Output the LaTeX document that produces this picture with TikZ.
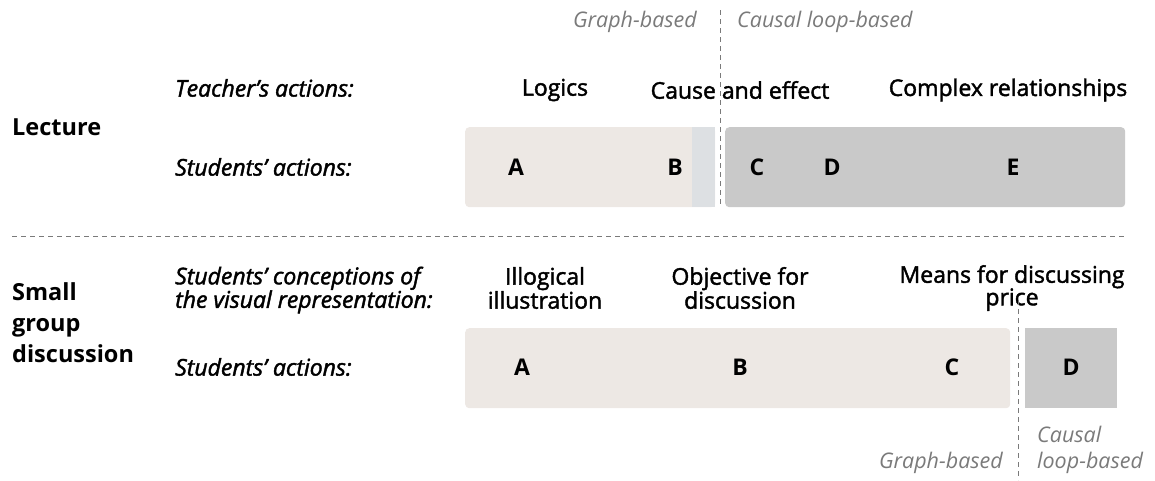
\documentclass[tikz,border=0pt]{standalone}
\usepackage{fontspec}
\setmainfont{Open Sans}
\newfontfamily\semifont[FakeBold=1.8]{Open Sans}
\usetikzlibrary{positioning}
\definecolor{lightbar}{HTML}{EDE8E4}
\definecolor{darkbar}{HTML}{C9C9C9}
\definecolor{midbar}{HTML}{DDE0E3}
\definecolor{notegray}{HTML}{7A7A7A}

\tikzset{
  head/.style={font=\fontsize{23.5}{31}\selectfont\bfseries, align=left},
  row/.style={font=\fontsize{23}{23.5}\semifont\itshape, anchor=west},
  cat/.style={font=\fontsize{23}{22.5}\semifont, align=center},
  lett/.style={font=\fontsize{23}{22}\selectfont\bfseries},
  note/.style={font=\fontsize{21.5}{26}\selectfont\itshape, text=notegray},
  bar/.style={rounded corners=4pt, anchor=north west},
  divider/.style={draw=notegray, dash pattern=on 5pt off 4pt, line width=0.7pt}
}

\begin{document}
\begin{tikzpicture}[x=1pt,y=-1pt,every node/.style={inner sep=0pt}]
\useasboundingbox (0,0) rectangle (1155,480);

% Lecture
\node[head, anchor=west] (lecture) at (12,127) {Lecture};
\node[row] (teach) at (175,88) {Teacher’s actions:};
\node[row] (stud1) at (175,167) {Students’ actions:};

\node[bar, fill=lightbar, minimum width=250, minimum height=80] (bar1a) at (465,127) {};
\fill[midbar] (692,127) rectangle (715,207);
\node[bar, fill=darkbar, minimum width=400, minimum height=80] (bar1b) at (725,127) {};

\node[cat] (logics) at (555,90) {Logics};
\node[cat] (cause) at (740,90) {Cause and effect};
\node[cat] (complex) at (1008,90) {Complex relationships};

\node[lett] (la) at (516,167) {A};
\node[lett] (lb) at (675,167) {B};
\node[lett] (lc) at (757,167) {C};
\node[lett] (ld) at (832,167) {D};
\node[lett] (le) at (1013,167) {E};

\node[note, anchor=east] (graph1) at (697,22) {Graph-based};
\node[note, anchor=west] (loop1) at (737,22) {Causal loop-based};

\coordinate (cut1top) at (720,10);
\coordinate (cut1bot) at (720,207);
\draw[divider] (cut1top) -- (cut1bot);

% separator
\coordinate (sepl) at (12,236);
\coordinate (sepr) at (1125,236);
\draw[divider] (sepl) -- (sepr);

% Small group discussion
\node[head, anchor=west] (small) at (12,323) {Small\\group\\discussion};
\node[row, align=left] (concep) at (175,290) {Students’ conceptions of\\the visual representation:};
\node[row] (stud2) at (175,367) {Students’ actions:};

\node[bar, fill=lightbar, minimum width=545, minimum height=80] (bar2a) at (465,328) {};
\node[bar, fill=darkbar, minimum width=92, minimum height=80, rounded corners=0pt] (bar2b) at (1025,328) {};

\node[cat] (illog) at (545,288) {Illogical\\illustration};
\node[cat] (object) at (740,288) {Objective for\\discussion};
\node[cat] (means) at (1012,288) {Means for discussing\\price};

\node[lett] (ma) at (522,367) {A};
\node[lett] (mb) at (740,367) {B};
\node[lett] (mc) at (952,367) {C};
\node[lett] (md) at (1071,367) {D};

\node[note, anchor=east] (graph2) at (1003,463) {Graph-based};
\node[note, anchor=west, align=left] (loop2) at (1037,450) {Causal\\loop-based};

\coordinate (cut2top) at (1018,300);
\coordinate (cut2bot) at (1018,480);
\draw[divider] (cut2top) -- (cut2bot);
\end{tikzpicture}
\end{document}
